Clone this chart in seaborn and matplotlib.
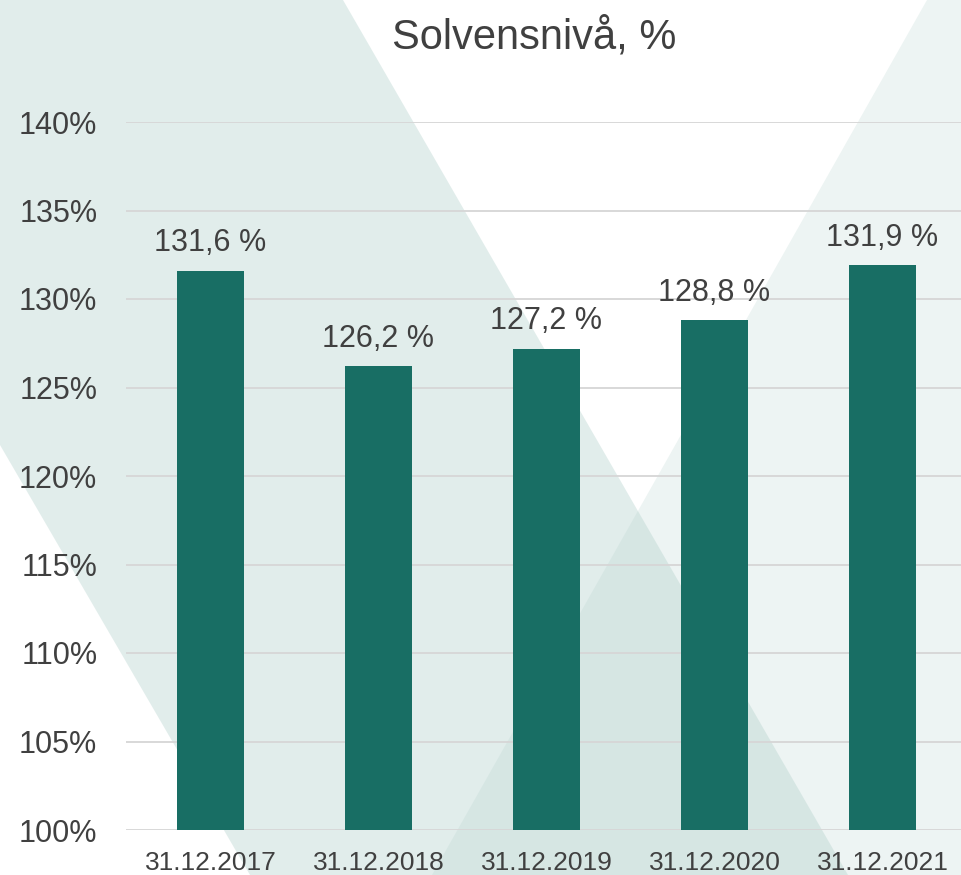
import matplotlib
matplotlib.use("Agg")
import matplotlib.pyplot as plt
from matplotlib.patches import Polygon
from matplotlib.ticker import FuncFormatter
import seaborn as sns
import pandas as pd

# --- Datos ---
datoer = ["31.12.2017", "31.12.2018", "31.12.2019", "31.12.2020", "31.12.2021"]
solvens = [131.6, 126.2, 127.2, 128.8, 131.9]
y_ticks = [100, 105, 110, 115, 120, 125, 130, 135, 140]

TITTEL = "Solvensnivå, %"
BAR_COLOR = "#186e64"
TEXT_COLOR = "#404040"
W, H = 962, 875

sns.set_theme(style="white")
plt.rcParams["font.family"] = ["Liberation Sans", "DejaVu Sans"]

df = pd.DataFrame({"dato": datoer, "solvens": solvens})

fig = plt.figure(figsize=(W / 100, H / 100), dpi=100)
fig.patch.set_facecolor("white")


def px_poly(points, **kw):
    # punkter i bildepiksler (origo oppe til venstre) -> figurbrøk
    pts = [(x / W, 1 - y / H) for x, y in points]
    return Polygon(pts, closed=True, transform=fig.transFigure, **kw)


# dekorative bånd i bakgrunnen
fig.patches.append(px_poly([(0, 0), (343, 0), (848, 875), (250, 875), (0, 445)],
                           facecolor="#b4d2cd", alpha=0.39, edgecolor="none", zorder=-2))
fig.patches.append(px_poly([(927, 0), (962, 0), (962, 875), (432, 875)],
                           facecolor="#b4d2cd", alpha=0.24, edgecolor="none", zorder=-1))

ax = fig.add_axes([126.5 / W, 1 - 830 / H, 840 / W, 708 / H])
ax.set_facecolor("none")

sns.barplot(data=df, x="dato", y="solvens", color=BAR_COLOR, width=0.4,
            saturation=1, linewidth=0, edgecolor="none", ax=ax, zorder=3)

ax.set_ylim(100, 140)
ax.set_yticks(y_ticks)
ax.yaxis.set_major_formatter(FuncFormatter(lambda v, p: f"{v:.0f}%"))
ax.grid(axis="y", color="#d6d6d6", linewidth=1.3, zorder=0)
ax.set_axisbelow(True)
for s in ax.spines.values():
    s.set_visible(False)

ax.set_xlabel("")
ax.set_ylabel("")
ax.tick_params(axis="y", length=0, pad=21, labelsize=22, labelcolor=TEXT_COLOR)
ax.tick_params(axis="x", length=0, pad=15, labelsize=19, labelcolor=TEXT_COLOR)

etiketter = [f"{v:.1f} %".replace(".", ",") for v in solvens]
ax.bar_label(ax.containers[0], labels=etiketter, padding=9, fontsize=22, color=TEXT_COLOR)

fig.text(534 / W, 1 - 48 / H, TITTEL, ha="center", va="baseline",
         fontsize=30, color=TEXT_COLOR)

fig.savefig("out.png", dpi=100)
